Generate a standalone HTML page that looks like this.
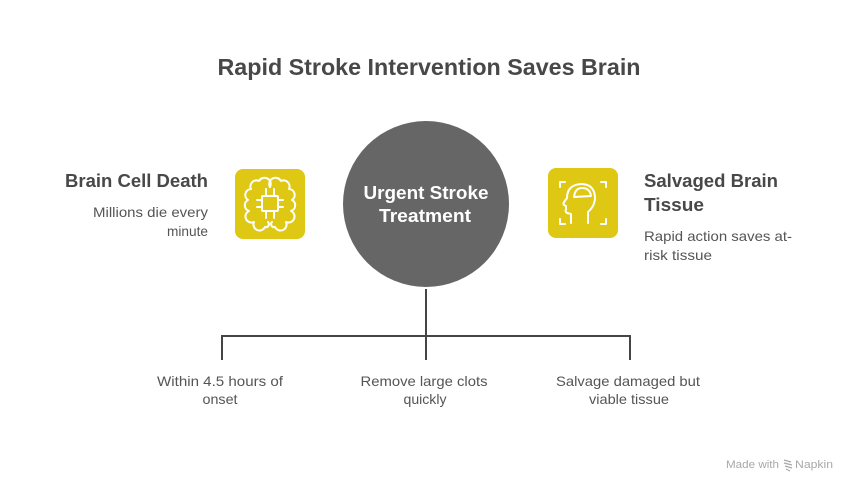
<!DOCTYPE html>
<html>
<head>
<meta charset="utf-8">
<style>
  html, body { margin:0; padding:0; background:#ffffff; }
  body { width:858px; height:492px; overflow:hidden; }
  svg { display:block; }
  text { font-family: "Liberation Sans", Arial, sans-serif; }
</style>
</head>
<body>
<svg width="858" height="492" viewBox="0 0 858 492" xmlns="http://www.w3.org/2000/svg">
  <rect width="858" height="492" fill="#ffffff"/>

  <!-- Title -->
  <text x="429" y="75" text-anchor="middle" font-size="23" font-weight="bold" fill="#484848" textLength="423" lengthAdjust="spacingAndGlyphs">Rapid Stroke Intervention Saves Brain</text>

  <!-- Connectors -->
  <g stroke="#454545" stroke-width="2" fill="none">
    <line x1="426" y1="289" x2="426" y2="360"/>
    <line x1="221" y1="336" x2="631" y2="336"/>
    <line x1="222" y1="335" x2="222" y2="360"/>
    <line x1="630" y1="335" x2="630" y2="360"/>
  </g>

  <!-- Central circle -->
  <circle cx="426" cy="204" r="83" fill="#666666"/>
  <text x="426" y="199" text-anchor="middle" font-size="18" font-weight="bold" fill="#ffffff" textLength="125" lengthAdjust="spacingAndGlyphs">Urgent Stroke</text>
  <text x="425" y="222" text-anchor="middle" font-size="18" font-weight="bold" fill="#ffffff" textLength="92" lengthAdjust="spacingAndGlyphs">Treatment</text>

  <!-- Left icon -->
  <rect x="235" y="169" width="70" height="70" rx="8" fill="#DEC814"/>
  <g stroke="#ffffff" stroke-width="2" fill="none" stroke-linecap="round" stroke-linejoin="round">
    <path d="M270,187 A6,6 0 0 0 259,181 A6,6 0 0 0 251,189 A6,6 0 0 0 248,200 A6,6 0 0 0 249,211 A6,6 0 0 0 254,222 A6,6 0 0 0 265,227 A3,3 0 0 0 268,222"/>
    <path d="M270,187 A6,6 0 0 1 281,181 A6,6 0 0 1 289,189 A6,6 0 0 1 292,200 A6,6 0 0 1 291,211 A6,6 0 0 1 286,222 A6,6 0 0 1 275,227 A3,3 0 0 1 272,222"/>
    <rect x="262" y="196" width="16" height="15" rx="1"/>
    <line x1="266" y1="196" x2="266" y2="189"/>
    <line x1="274" y1="196" x2="274" y2="189"/>
    <line x1="266" y1="211" x2="266" y2="218"/>
    <line x1="274" y1="211" x2="274" y2="218"/>
    <line x1="262" y1="200" x2="257" y2="200"/>
    <line x1="262" y1="207" x2="257" y2="207"/>
    <line x1="278" y1="200" x2="283" y2="200"/>
    <line x1="278" y1="207" x2="283" y2="207"/>
  </g>

  <!-- Right icon -->
  <rect x="548" y="168" width="70" height="70" rx="8" fill="#DEC814"/>
  <g stroke="#ffffff" stroke-width="2" fill="none" stroke-linecap="round" stroke-linejoin="round">
    <!-- corner brackets -->
    <path d="M560,187 L560,182 L565,182"/>
    <path d="M601,182 L606,182 L606,187"/>
    <path d="M560,219 L560,224 L565,224"/>
    <path d="M601,224 L606,224 L606,219"/>
    <!-- head profile -->
    <path d="M571,223 L571,214 L567,213 Q565,212 566,209 L566,206 L564,205 Q563,204 564,202 L567,198 Q567,185 581,184 Q594,184 595,197 Q595,206 588,212 L588,223"/>
    <!-- brain cap -->
    <path d="M574,197 Q575,188 582,188 Q590,188 591,196 Z"/>
  </g>

  <!-- Left texts -->
  <text x="208" y="187" text-anchor="end" font-size="18" font-weight="bold" fill="#484848" textLength="143" lengthAdjust="spacingAndGlyphs">Brain Cell Death</text>
  <text x="208" y="217" text-anchor="end" font-size="14" fill="#555555" textLength="115" lengthAdjust="spacingAndGlyphs">Millions die every</text>
  <text x="208" y="236" text-anchor="end" font-size="14" fill="#555555" textLength="41" lengthAdjust="spacingAndGlyphs">minute</text>

  <!-- Right texts -->
  <text x="644" y="187" font-size="18" font-weight="bold" fill="#484848" textLength="134" lengthAdjust="spacingAndGlyphs">Salvaged Brain</text>
  <text x="644" y="211" font-size="18" font-weight="bold" fill="#484848" textLength="60" lengthAdjust="spacingAndGlyphs">Tissue</text>
  <text x="644" y="241" font-size="14" fill="#555555" textLength="148" lengthAdjust="spacingAndGlyphs">Rapid action saves at-</text>
  <text x="644" y="260" font-size="14" fill="#555555" textLength="68" lengthAdjust="spacingAndGlyphs">risk tissue</text>

  <!-- Bottom labels -->
  <text x="220" y="386" text-anchor="middle" font-size="14" fill="#555555" textLength="126" lengthAdjust="spacingAndGlyphs">Within 4.5 hours of</text>
  <text x="220" y="404" text-anchor="middle" font-size="14" fill="#555555" textLength="35" lengthAdjust="spacingAndGlyphs">onset</text>

  <text x="424" y="386" text-anchor="middle" font-size="14" fill="#555555" textLength="127" lengthAdjust="spacingAndGlyphs">Remove large clots</text>
  <text x="425" y="404" text-anchor="middle" font-size="14" fill="#555555" textLength="43" lengthAdjust="spacingAndGlyphs">quickly</text>

  <text x="628" y="386" text-anchor="middle" font-size="14" fill="#555555" textLength="144" lengthAdjust="spacingAndGlyphs">Salvage damaged but</text>
  <text x="629" y="404" text-anchor="middle" font-size="14" fill="#555555" textLength="80" lengthAdjust="spacingAndGlyphs">viable tissue</text>

  <!-- Watermark -->
  <text x="726" y="468" font-size="11" fill="#a8a8a8" textLength="53" lengthAdjust="spacingAndGlyphs">Made with</text>
  <g stroke="#a8a8a8" stroke-width="1.2" fill="none">
    <path d="M784,460 L791,462 M784,463 L792,465 M785,466 L792,468 M786,469 L790,471"/>
  </g>
  <text x="795" y="468" font-size="11" fill="#a8a8a8" textLength="38" lengthAdjust="spacingAndGlyphs">Napkin</text>
</svg>
</body>
</html>
